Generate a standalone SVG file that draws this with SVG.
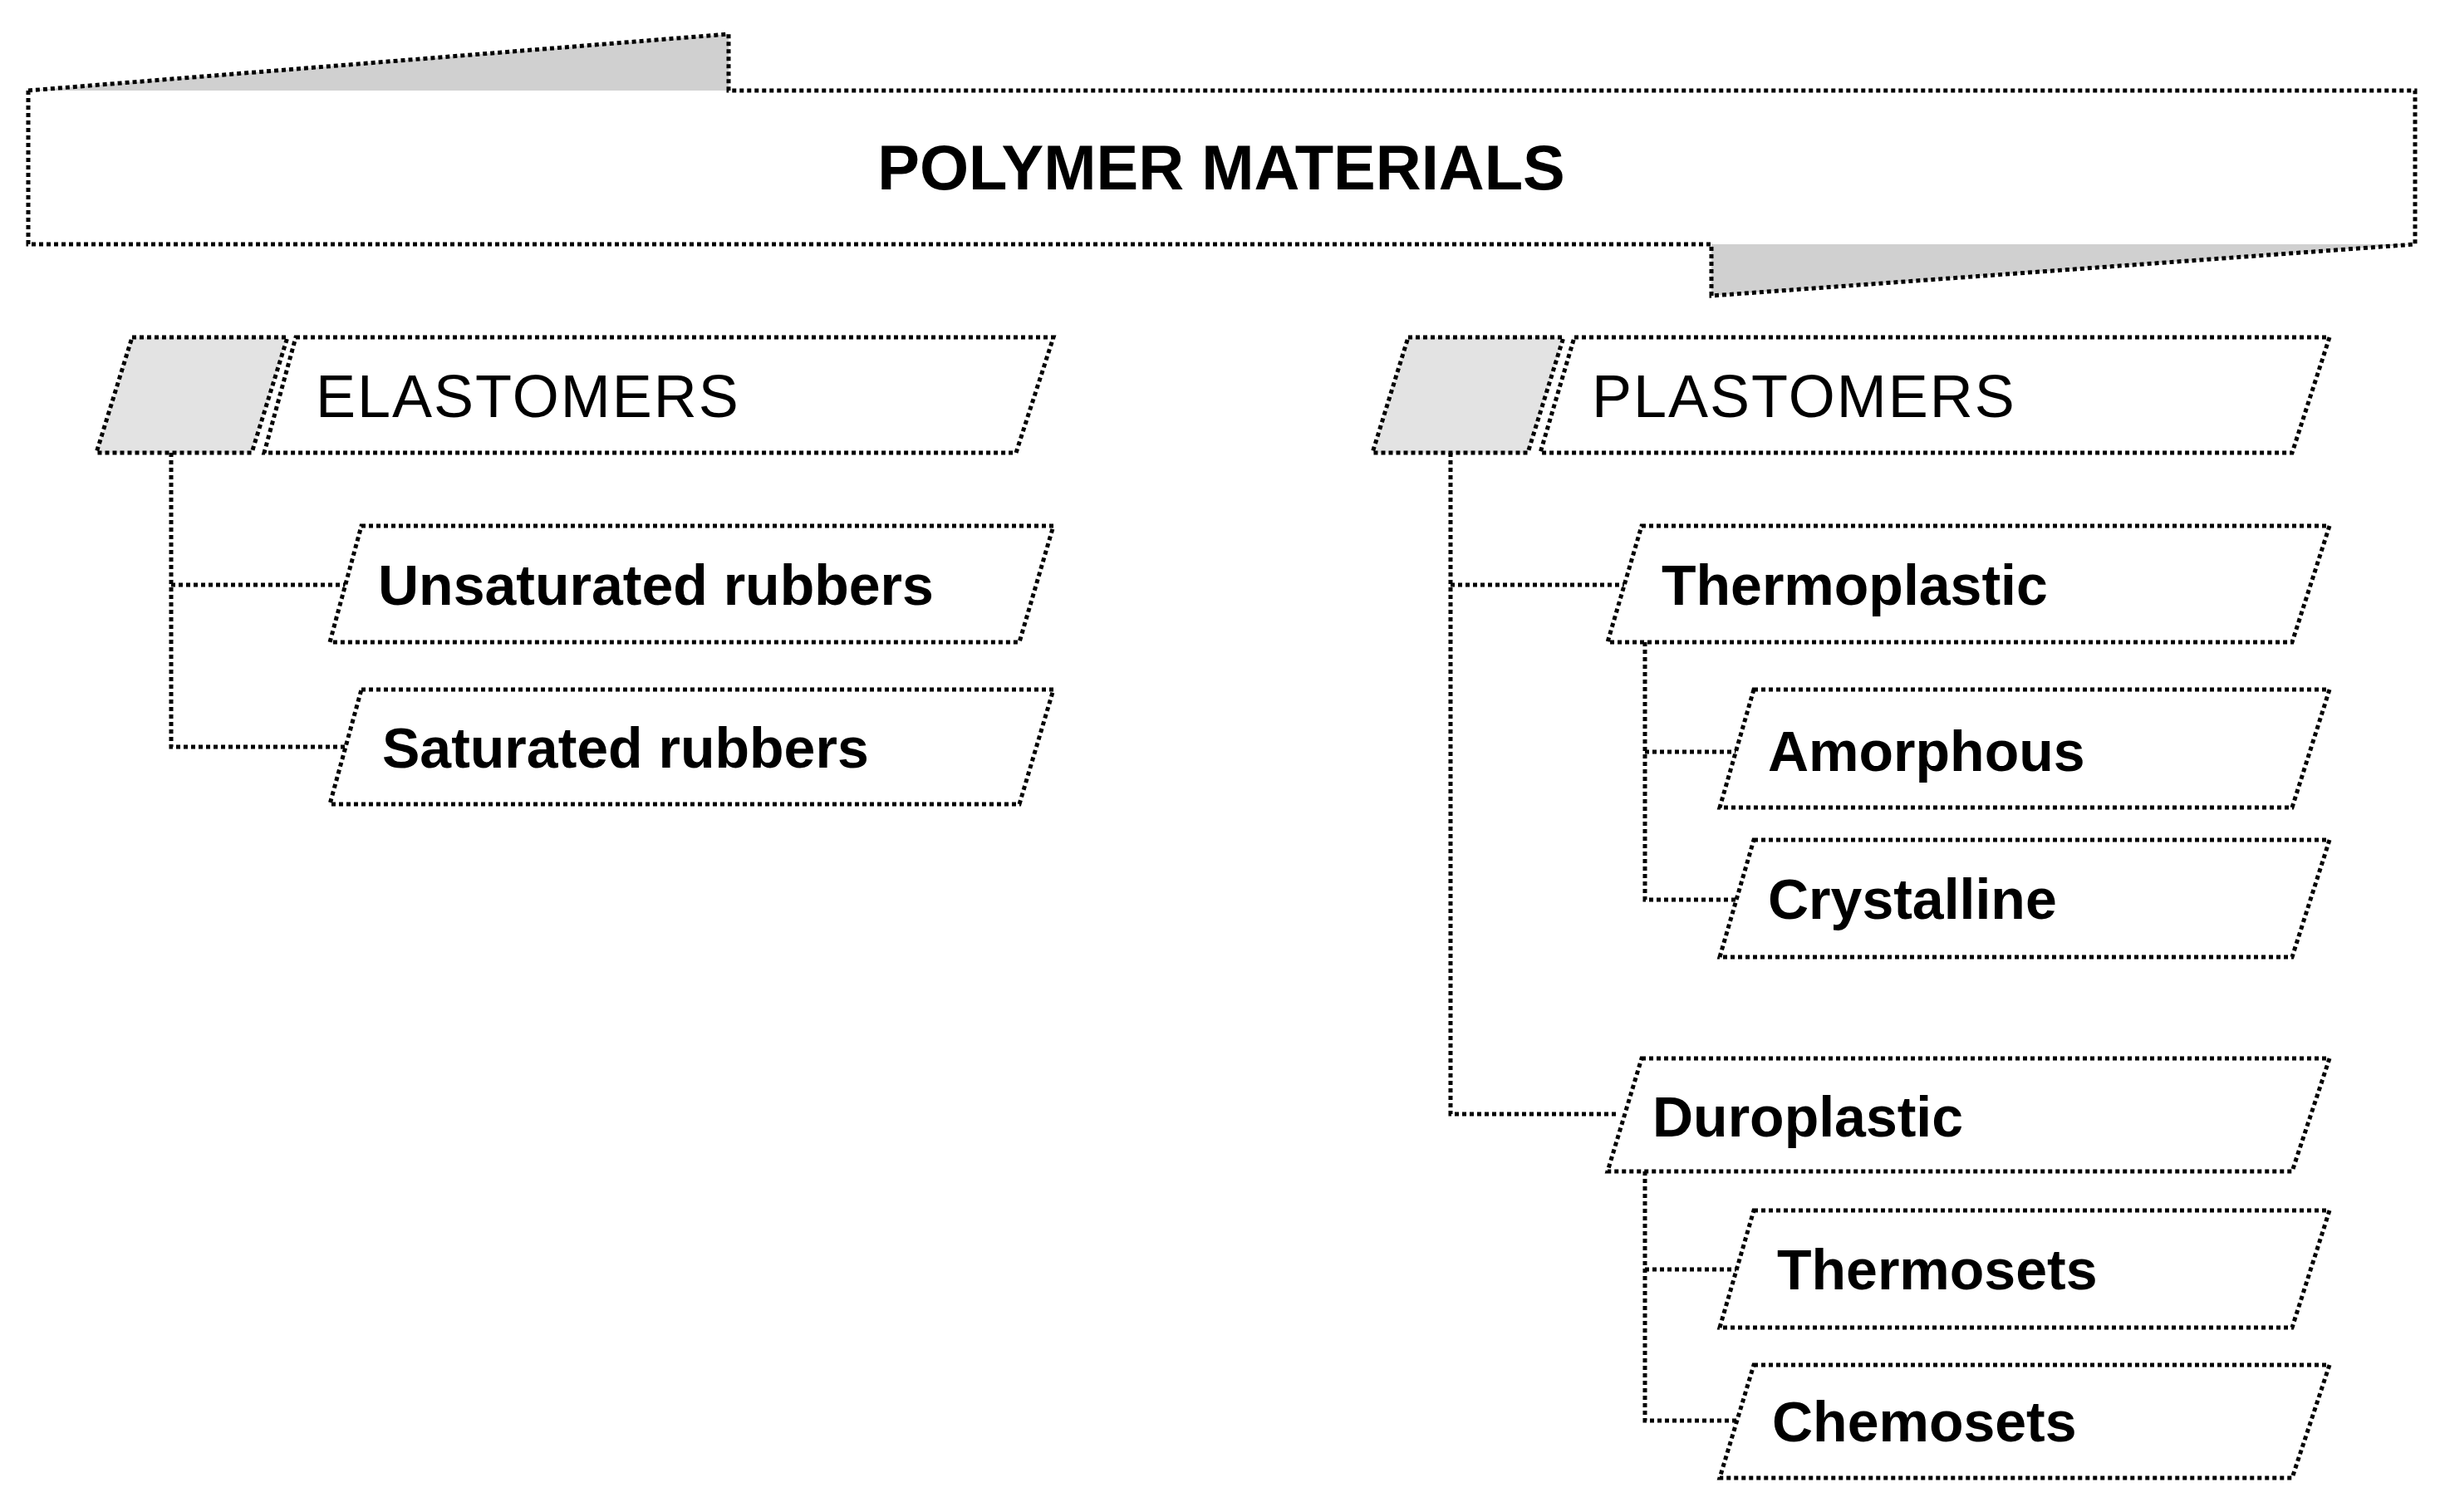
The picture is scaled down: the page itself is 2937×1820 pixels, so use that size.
<svg xmlns="http://www.w3.org/2000/svg" width="2937" height="1820" viewBox="0 0 2937 1820">
<style>
.d{fill:none;stroke:#000;stroke-width:5;stroke-dasharray:5 4}
.box{fill:#fff;stroke:#000;stroke-width:5;stroke-dasharray:5 4}
.g{fill:#d0d0d0;stroke:none}
.gb{fill:#e3e3e3;stroke:#000;stroke-width:5;stroke-dasharray:5 4}
.t{font-family:"Liberation Sans",Arial,sans-serif;fill:#000}
.h{font-size:76px;font-weight:bold}
.c{font-size:72px;letter-spacing:2px}
.s{font-size:68px;font-weight:bold}
</style>
<rect width="2937" height="1820" fill="#fff"/>
<g id="title">
<polygon class="g" points="34,109 877,41 877,109"/>
<polygon class="g" points="2060,294 2060,356 2907,294"/>
<path class="d" d="M34,109 L877,41 L877,109 L2907,109 L2907,294 L2060,356 L2060,294 L34,294 Z"/>
<text class="t h" x="1470" y="228" text-anchor="middle">POLYMER MATERIALS</text>
</g>
<g id="connectors">
<path class="d" d="M206,545 V899 H416 M206,704 H416"/>
<path class="d" d="M1746,545 V1341 H1948 M1746,704 H1957"/>
<path class="d" d="M1980,773 V1083 H2090 M1980,905 H2090"/>
<path class="d" d="M1980,1410 V1710 H2090 M1980,1528 H2090"/>
</g>
<g id="elastomers">
<polygon class="gb" points="159,406 346,406 303,545 116,545"/>
<polygon class="box" points="356,406 1268,406 1223,545 318,545"/>
<text class="t c" x="380" y="502">ELASTOMERS</text>
</g>
<g id="unsaturated">
<polygon class="box" points="435,633 1268,633 1227,773 397,773"/>
<text class="t s" x="455" y="728">Unsaturated rubbers</text>
</g>
<g id="saturated">
<polygon class="box" points="435,830 1268,830 1227,968 397,968"/>
<text class="t s" x="460" y="924">Saturated rubbers</text>
</g>
<g id="plastomers">
<polygon class="gb" points="1695,406 1882,406 1839,545 1652,545"/>
<polygon class="box" points="1895,406 2804,406 2759,545 1854,545"/>
<text class="t c" x="1916" y="502">PLASTOMERS</text>
</g>
<g id="thermoplastic">
<polygon class="box" points="1976,633 2804,633 2759,773 1935,773"/>
<text class="t s" x="2000" y="728">Thermoplastic</text>
</g>
<g id="amorphous">
<polygon class="box" points="2111,830 2804,830 2759,972 2070,972"/>
<text class="t s" x="2128" y="928">Amorphous</text>
</g>
<g id="crystalline">
<polygon class="box" points="2111,1011 2804,1011 2759,1152 2070,1152"/>
<text class="t s" x="2128" y="1106">Crystalline</text>
</g>
<g id="duroplastic">
<polygon class="box" points="1976,1274 2804,1274 2759,1410 1935,1410"/>
<text class="t s" x="1989" y="1368">Duroplastic</text>
</g>
<g id="thermosets">
<polygon class="box" points="2111,1457 2804,1457 2759,1598 2070,1598"/>
<text class="t s" x="2139" y="1552">Thermosets</text>
</g>
<g id="chemosets">
<polygon class="box" points="2111,1643 2804,1643 2759,1779 2070,1779"/>
<text class="t s" x="2133" y="1735">Chemosets</text>
</g>
</svg>
